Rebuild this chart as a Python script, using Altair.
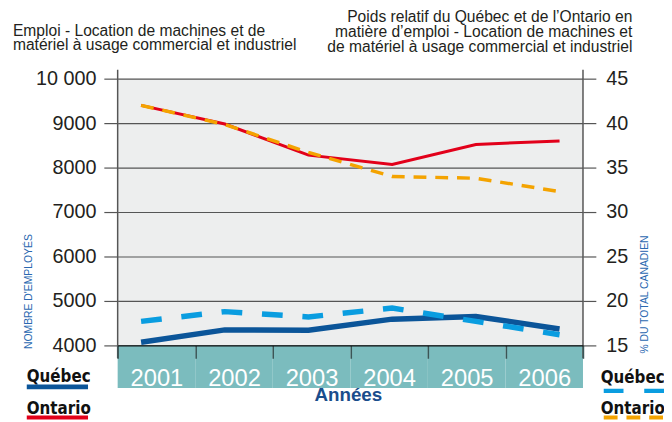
import altair as alt
import pandas as pd

# ---- data ----
years = ["2001", "2002", "2003", "2004", "2005", "2006"]
quebec_emp = [4070, 4350, 4340, 4590, 4650, 4370]
ontario_emp = [9400, 8980, 8280, 8070, 8520, 8600]
quebec_share = [17.7, 18.8, 18.2, 19.2, 17.7, 16.2]
ontario_share = [42.0, 39.85, 36.7, 34.0, 33.8, 32.3]

left_ticks = [4000, 5000, 6000, 7000, 8000, 9000, 10000]
right_ticks = [15, 20, 25, 30, 35, 40, 45]

title_left = ["Emploi - Location de machines et de",
              "matériel à usage commercial et industriel"]
title_right = ["Poids relatif du Québec et de l\u2019Ontario en",
               "matière d\u2019emploi - Location de machines et",
               "de matériel à usage commercial et industriel"]
y_left_title = "NOMBRE D'EMPLOYÉS"
y_right_title = "% DU TOTAL CANADIEN"
x_title = "Années"
legend_labels = ["Québec", "Ontario"]

# ---- styling ----
W, H = 471, 270
FONT = "Liberation Sans, Arial, Helvetica, sans-serif"
NARROW = "Liberation Sans Narrow, DejaVu Sans Condensed, Arial Narrow, sans-serif"
TXT = "#231f20"
GRID = "#555555"
RED = "#e2001a"
ORANGE = "#f4a300"
DBLUE = "#0b5599"
LBLUE = "#0a9de0"
TEAL = "#7bbcbe"
AXBLUE = "#2a68b0"
TBLUE = "#1a4d8c"

df = pd.DataFrame({
    "year": years,
    "quebec_emp": quebec_emp,
    "ontario_emp": ontario_emp,
    "quebec_share": quebec_share,
    "ontario_share": ontario_share,
})
one = pd.DataFrame({"k": [0]})

xpt = alt.X("year:O", scale=alt.Scale(type="point", padding=0.28), axis=None)

left_axis = alt.Axis(
    orient="left", values=left_ticks,
    labelExpr="datum.value >= 10000 ? replace(format(datum.value, ','), ',', ' ') : format(datum.value, 'd')",
    tickSize=14, tickColor=GRID, tickWidth=1.2, domain=False,
    grid=True, gridColor=GRID, gridWidth=1.2, gridOpacity=1,
    labelFont=FONT, labelFontSize=20, labelColor=TXT, labelPadding=8,
    title=y_left_title, titleFont=FONT, titleFontSize=10.5, titleFontWeight="normal",
    titleColor=AXBLUE, titleAngle=270, titleAlign="center", titleBaseline="middle",
    titleX=-90, titleY=215,
)
right_axis = alt.Axis(
    orient="right", values=right_ticks,
    tickSize=13, tickColor=GRID, tickWidth=1.2, domain=False, grid=False,
    labelFont=FONT, labelFontSize=20, labelColor=TXT, labelPadding=10,
    title=y_right_title, titleFont=FONT, titleFontSize=10.5, titleFontWeight="normal",
    titleColor=AXBLUE, titleAngle=270, titleAlign="center", titleBaseline="middle",
    titleX=62, titleY=218,
)
yl_scale = alt.Scale(domain=[4000, 10000], nice=False, zero=False)
yr_scale = alt.Scale(domain=[15, 45], nice=False, zero=False)

base = alt.Chart(df)
on_emp = base.mark_line(color=RED, strokeWidth=3).encode(
    x=xpt, y=alt.Y("ontario_emp:Q", scale=yl_scale, axis=left_axis))
qc_emp = base.mark_line(color=DBLUE, strokeWidth=5.5).encode(
    x=xpt, y=alt.Y("quebec_emp:Q", scale=yl_scale, axis=left_axis))
on_sh = base.mark_line(color=ORANGE, strokeWidth=3.5, strokeDash=[13, 9]).encode(
    x=xpt, y=alt.Y("ontario_share:Q", scale=yr_scale, axis=right_axis))
qc_sh = base.mark_line(color=LBLUE, strokeWidth=5.5, strokeDash=[21, 20]).encode(
    x=xpt, y=alt.Y("quebec_share:Q", scale=yr_scale, axis=right_axis))

left = alt.layer(on_emp, qc_emp)
right = alt.layer(on_sh, qc_sh)

xband = alt.X("year:O", scale=alt.Scale(type="band", paddingInner=0, paddingOuter=0),
              axis=alt.Axis(orient="bottom", tickBand="extent", tickSize=13,
                            tickColor="#3b5556", tickWidth=1.5, domain=True,
                            domainColor="#111111", domainWidth=1.2,
                            labelColor="white", labelFontSize=24, labelFont=FONT,
                            labelAngle=0, labelBaseline="alphabetic", labelPadding=28,
                            title=x_title, titleFont=FONT, titleFontSize=19,
                            titleFontWeight="bold", titleColor=TBLUE,
                            titleX=233, titleY=56, titleBaseline="alphabetic",
                            titleAlign="center", zindex=1))
teal = alt.Chart(pd.DataFrame({"year": years})).mark_rect(color=TEAL).encode(
    x=xband, y=alt.value(H), y2=alt.value(H + 43))

ann = alt.Chart(one)
vline_l = ann.mark_rule(color=GRID, strokeWidth=1.5).encode(
    x=alt.value(0), y=alt.value(-9), y2=alt.value(H + 13))
vline_r = ann.mark_rule(color=GRID, strokeWidth=1.5).encode(
    x=alt.value(W), y=alt.value(-9), y2=alt.value(H + 13))

t_left = ann.mark_text(align="left", baseline="alphabetic", font=FONT, fontSize=15.8,
                       lineHeight=15, color=TXT).encode(
    x=alt.value(-106), y=alt.value(-43.5), text=alt.value(title_left))
t_right = ann.mark_text(align="right", baseline="alphabetic", font=FONT, fontSize=15.8,
                        lineHeight=15.3, color=TXT).encode(
    x=alt.value(521), y=alt.value(-57.7), text=alt.value(title_right))

def leg_text(label, x, y):
    return ann.mark_text(align="left", baseline="alphabetic", font=NARROW, fontSize=17,
                         fontWeight="bold", color="#111111").encode(
        x=alt.value(x), y=alt.value(y), text=alt.value(label))

def leg_line(color, x1, x2, y, w, dash=None):
    kw = dict(color=color, strokeWidth=w)
    if dash:
        kw["strokeDash"] = dash
    return ann.mark_rule(**kw).encode(x=alt.value(x1), x2=alt.value(x2), y=alt.value(y))

legend = [
    leg_text(legend_labels[0], -92, 307), leg_line(DBLUE, -92, -30, 312, 5),
    leg_text(legend_labels[1], -92, 339), leg_line(RED, -92, -30, 343, 4),
    leg_text(legend_labels[0], 489, 308), leg_line(LBLUE, 492, 553, 316, 4.5, [20, 21]),
    leg_text(legend_labels[1], 489, 339), leg_line(ORANGE, 492, 553, 343, 4, [14, 9]),
]

chart = alt.layer(teal, vline_l, vline_r, left, right, t_left, t_right, *legend).resolve_scale(
    x="independent", y="independent"
).properties(
    width=W, height=H,
    autosize=alt.AutoSizeParams(type="none"),
    padding={"left": 111, "top": 69, "right": 82, "bottom": 75},
    background="white",
).configure_view(fill="#edeeee", strokeWidth=0)

chart.save("out.html", embed_options={"renderer": "svg", "actions": False})
